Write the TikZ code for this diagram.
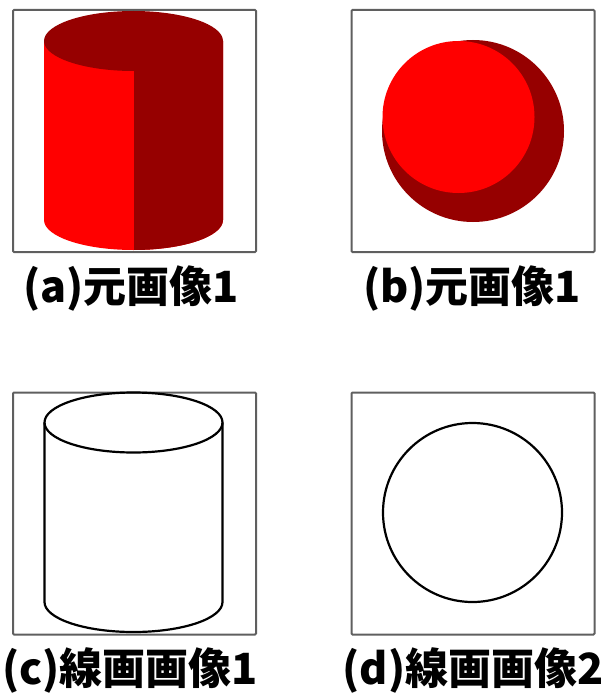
\documentclass[tikz,border=0pt]{standalone}
\usepackage{fontspec}
\usepackage{tikz}
\usetikzlibrary{positioning}
\newfontfamily\jpfont{Noto Sans CJK JP}
\definecolor{pureRed}{RGB}{255,0,0}
\definecolor{shadeRed}{RGB}{150,0,0}
\definecolor{frameGray}{RGB}{95,95,95}

\begin{document}
\begin{tikzpicture}[
    x=1pt, y=-1pt,
    frame/.style={
        rectangle,
        draw=frameGray,
        line width=2pt,
        rounded corners=1pt,
        minimum width=243pt,
        minimum height=242pt,
        inner sep=0pt,
    },
    caption/.style={
        font=\jpfont\bfseries\fontsize{43}{46}\selectfont,
        inner sep=0pt,
        text=black,
    },
    outline/.style={draw=black, line width=2.2pt}
]
\useasboundingbox (0,0) rectangle (605,693);

\node[frame] (imgA) at (134.5,131) {};
\node[frame] (imgB) at (473,131) {};
\node[frame] (imgC) at (134.5,513.5) {};
\node[frame] (imgD) at (473,513.5) {};

% shaded cylinder
\fill[pureRed] (44,41) rectangle (223,220)
    (133.5,220) ellipse [x radius=89.5pt, y radius=30pt];
\begin{scope}
  \clip (134,0) rectangle (240,260);
  \fill[shadeRed] (44,41) rectangle (223,220)
      (133.5,220) ellipse [x radius=89.5pt, y radius=30pt];
\end{scope}
\fill[shadeRed] (133.5,41) ellipse [x radius=89.5pt, y radius=30pt];

% shaded sphere
\fill[shadeRed] (473,131) circle [radius=91pt];
\fill[pureRed] (458.5,117) circle [radius=76pt];

% cylinder outline
\draw[outline] (133.5,422.5) ellipse [x radius=89pt, y radius=30pt];
\draw[outline] (44.5,422.5) -- (44.5,602)
    arc [start angle=180, end angle=360, x radius=89pt, y radius=30pt]
    -- (222.5,422.5);

% circle outline
\draw[outline] (472.5,512.5) circle [radius=89.5pt];

\node[caption] (capA) at (131,289) {(a)元画像1};
\node[caption] (capB) at (472,289) {(b)元画像1};
\node[caption] (capC) at (130,670) {(c)線画画像1};
\node[caption] (capD) at (473,670) {(d)線画画像2};
\end{tikzpicture}
\end{document}
